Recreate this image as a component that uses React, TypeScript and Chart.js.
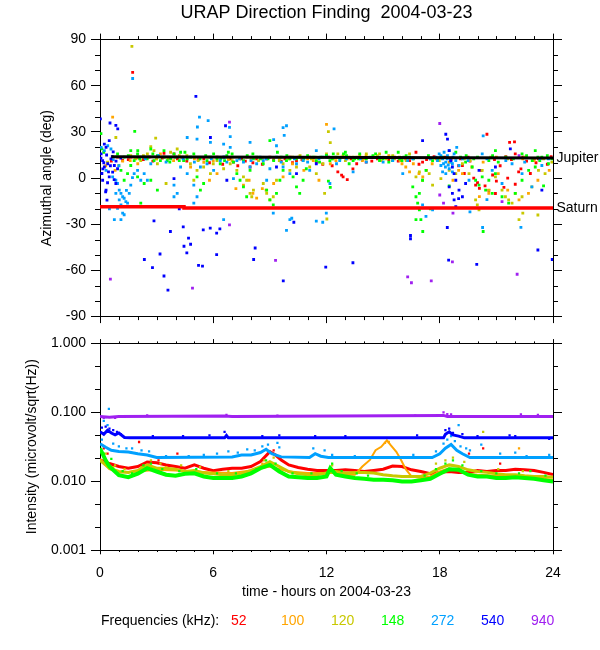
import { useEffect, useRef } from 'react';
import { Chart, registerables } from 'chart.js';

Chart.register(...registerables);

const FONT = "'Liberation Sans', Arial, Helvetica, sans-serif";
const TITLE = 'URAP Direction Finding  2004-03-23';
const X_TITLE = 'time - hours on 2004-03-23';
const Y_TITLE_TOP = 'Azimuthal angle (deg)';
const Y_TITLE_BOTTOM = 'Intensity (microvolt/sqrt(Hz))';
const LEGEND_TITLE = 'Frequencies (kHz):';

const FREQ_LABELS = ['52', '100', '120', '148', '272', '540', '940'];
const FREQ_COLORS = ['#ff0000', '#ffa500', '#c8c800', '#00ff00', '#00a0ff', '#0000ff', '#a020f0'];

const HOUR_MINOR = [1, 2, 3, 4, 5, 7, 8, 9, 10, 11, 13, 14, 15, 16, 17, 19, 20, 21, 22, 23];
const ANGLE_MINOR = [-80, -70, -50, -40, -20, -10, 10, 20, 40, 50, 70, 80];
const INTENSITY_TICKS = [0.001, 0.01, 0.1, 1];
const INTENSITY_MINOR = [0.464, 0.215, 0.0464, 0.0215, 0.00464, 0.00215];

const PLANET_LABELS = ['Jupiter', 'Saturn'];
const PLANET_LABEL_DEG = [13.0, -19.2];
const JUPITER = [[0.6, 13.8], [24, 13.0]];
const SATURN = [[0, -18.6], [4.45, -18.6], [4.45, -19.4], [24, -19.4]];

// ---------- Azimuthal angle (hours, deg) ----------
const AZ_52 = [
  [0.6, 11], [0.93, 13.6], [1.2, 11.5], [1.5, 12], [1.63, 13.6], [1.9, 13], [2.3, 12], [2.8, 11], [3.3, 13], [3.39, 16.1],
  [3.7, 13.5], [3.92, 15.7], [4.1, 12.5], [4.6, 11], [5.2, 12], [5.8, 10], [6.2, 13.6], [6.5, 9], [6.9, 12.5], [7.07, 10.4],
  [7.3, 8], [7.7, 11], [7.95, 7.2], [8.1, 10], [8.6, 9], [8.83, 12.5], [9.2, 12], [9.6, 11], [10.06, 13.6], [10.2, 10],
  [10.41, 11.4], [10.7, 12], [11.11, 13.6], [11.3, 13], [11.46, 10.4], [11.8, 9], [12.3, 8], [12.6, 4], [12.8, 1.9], [12.88, 0.8],
  [13.1, -1], [13.4, 6], [13.6, 9.3], [13.9, 12], [14.1, 10.4], [14.4, 11], [14.9, 13], [15.3, 12], [15.8, 11], [16.2, 12.5],
  [16.6, 13], [16.74, 16.8], [16.9, 9], [17.09, 10.4], [17.3, 12], [17.7, 14], [18.1, 13], [18.6, 12], [19.0, 8], [19.2, 8.2],
  [19.3, 3], [19.6, 11], [19.8, 0], [19.9, -4.6], [20.0, -3], [20.1, -6.7], [20.2, 5], [20.4, -5], [20.5, 28.5], [20.6, -8],
  [20.8, 2], [20.95, -10], [21.0, -2], [21.2, 8], [21.4, -6], [21.6, 0], [21.7, 23.2], [21.8, 12], [22.0, -4], [22.18, 4],
  [22.3, 6], [22.6, 11], [22.8, 3], [23.1, 10], [23.23, 12.5], [23.4, 13], [23.7, 9], [23.9, 14], [1.73, 68.7], [21.96, 23.5],
  [20.9, 12], [21.5, 14], [19.5, 13.6], [22.0, 15.7],
  [2.0, 13.6], [2.6, 13.6], [4.4, 13.6], [5.5, 12.5], [7.5, 12.5], [8.3, 12.5], [9.0, 13.6], [9.8, 12.5], [12.1, 13.6], [13.3, 12.5],
  [14.7, 12.5], [15.6, 13.6], [16.4, 11.4], [17.5, 12.5], [18.3, 13.6], [19.1, 12.5], [22.4, 13.6], [23.0, 12.5],
];
const AZ_100 = [
  [0.3, 8], [0.67, 39.6], [0.8, 5], [1.2, 11], [1.8, 13.6], [2.0, 9.3], [2.5, 13.6], [3.2, 15.7], [3.9, 11.4], [4.8, 7.2],
  [5.5, 10.3], [5.8, -1.4], [6.2, 2.9], [6.8, 12], [7.2, -6.8], [7.6, -4.6], [7.9, -1.4], [8.1, -9.9], [8.3, -13], [8.6, -6.8],
  [8.8, -7.8], [9.2, -3.5], [9.7, 0.8], [10.2, 9.3], [10.8, 5.0], [11.3, 11.4], [11.6, -1.4], [12.0, 34.9], [12.2, 9.3], [12.5, 11.4],
  [13.1, 12.5], [13.6, 13.6], [14.1, 14.6], [14.6, 13.6], [15.3, 14.6], [15.9, 11.4], [16.0, 9.3], [16.2, 7.2], [16.4, 4], [16.6, 9.3],
  [16.9, 2.9], [17.1, 0.8], [17.3, 5], [17.6, 9.3], [18.5, 10.3], [18.7, -1.4], [19.0, 5.0], [19.2, 2.9], [19.7, 7.2], [20.1, -12],
  [20.6, -9.9], [21.1, 2.9], [21.6, -7.8], [22.2, -14.2], [22.7, -9.9], [23.2, -1.4], [23.8, 5.0], [5.0, 12.5], [7.0, 13.6], [9.5, 12.5],
  [10.5, 13.6], [14.9, 11.4], [20.3, 10.4], [22.4, 12.5],
  [1.6, 11.4], [3.0, 12.5], [4.3, 13.6], [6.0, 11.4], [8.0, 12.5], [11.0, 12.5], [12.8, 13.6], [13.9, 11.4], [15.0, 13.6], [17.8, 12.5],
  [21.0, 13.6], [23.0, 11.4],
];
const AZ_120 = [
  [0.84, 26.4], [2.95, 26], [2.69, 20.5], [1.63, 14.6], [2.16, 11.4], [2.51, 15.7], [2.86, 17.8], [3.04, 9.3], [3.39, 13.6], [3.74, 16.8],
  [4.09, 18.9], [4.44, 11.4], [4.79, 9.3], [4.97, -1.4], [5.14, 5.0], [5.49, 7.2], [5.85, 2.9], [6.2, 11.4], [6.55, 6.1], [6.9, 9.3],
  [7.25, 5.0], [7.6, 0.8], [7.77, -1.4], [7.95, -9.9], [8.04, -12.1], [8.13, -7.8], [8.65, -3.5], [8.83, -9.9], [9.0, -14.2], [9.18, -12.1],
  [9.35, -1.4], [9.7, 9.3], [10.06, 5.0], [10.41, 7.2], [10.76, 11.4], [11.11, 7.2], [11.46, 2.9], [11.81, 9.3], [11.9, -9.9], [1.0, 8.2],
  [0.4, 10.4], [3.5, -3.5], [12.1, 30.2], [12.2, 23], [12.02, -26.6], [5.0, 13.6], [6.7, 13.6], [8.4, 11.4], [1.69, 85.6],
  [12.0, 15.7], [12.36, 12.5], [12.88, 14.6], [13.41, 13.6], [13.76, 14.6], [14.11, 15.7], [14.46, 13.9], [14.81, 15.7], [15.16, 12.5], [15.51, 14.6],
  [15.87, 13.6], [16.22, 11.4], [16.74, 0.8], [16.92, 4.0], [17.09, -1.4], [17.44, 2.9], [17.62, -4.6], [17.97, 11.4], [18.5, 5.0], [18.85, 2.9],
  [19.2, 9.3], [19.55, 2.9], [19.9, -14.2], [19.99, -17.4], [20.08, -20.6], [20.6, -7.8], [20.95, 0.8], [21.3, -7.8], [21.48, -12.1], [21.65, -14.2],
  [21.83, -16.3], [22.0, -9.9], [22.36, -12.1], [22.88, -5.7], [23.23, 5.0], [23.58, 2.9], [23.94, 10.4], [20.25, 5], [18.06, -0.3], [22.4, -22.8],
  [23.2, -24], [22.2, -27], [3.0, 12.5], [4.6, 14.6], [7.4, 12.5], [10.2, 13.6], [11.2, 12.5], [13.0, 11.4], [15.6, 12.5], [19.6, 11.4],
  [1.9, 12.5], [2.3, 14.6], [3.6, 12.5], [4.2, 14.6], [5.2, 11.4], [5.7, 13.6], [6.0, 9.3], [7.0, 11.4], [7.8, 13.6], [8.6, 12.5],
  [9.5, 11.4], [10.0, 12.5], [10.6, 14.6], [11.4, 13.6], [12.6, 15.7], [13.2, 13.6], [14.0, 12.5], [14.7, 14.6], [15.4, 13.6], [16.0, 12.5],
  [16.4, 15.7], [19.3, 12.5], [20.7, 13.6], [21.6, 12.5], [22.5, 13.6], [23.5, 12.5],
];
const AZ_148 = [
  [0.05, 28.9], [0.1, 19], [0.2, 16.8], [0.93, 15.7], [1.28, 13.6], [1.63, 17.8], [1.81, 11.4], [1.99, 15.7], [2.34, 13.6], [2.69, 18.9],
  [3.04, 14.6], [3.39, 17.8], [3.56, 11.4], [3.92, 15.7], [4.27, 16.8], [4.62, 12.5], [4.97, 15.7], [5.14, 0.8], [5.32, -7.8], [5.49, -3.5],
  [5.67, 11.4], [6.02, 15.7], [6.37, 9.3], [6.72, 14.6], [7.07, 10.4], [7.25, 2.9], [7.42, -1.4], [7.6, -5.7], [7.77, -12.1], [7.95, 5.0],
  [8.3, 13.6], [8.65, 9.3], [8.83, -7.8], [9.0, -14.2], [9.18, -17.4], [9.35, -9.9], [9.53, -1.4], [9.7, 5.0], [9.88, 11.4], [10.23, 0.8],
  [10.41, -5.7], [10.58, -9.9], [10.76, -1.4], [10.93, 6.1], [11.28, 13.6], [11.63, 10.4], [11.99, 14.6], [9.0, 24.3], [1.84, 30.4], [1.11, 5.0],
  [1.28, -1.4], [1.46, 2.9], [1.63, 8.2], [1.99, 0.8], [2.34, -3.5], [2.69, -1.4], [3.04, -7.8], [2.16, -16.3], [6.2, 12.5], [5.85, 13.6],
  [4.44, 11.4], [3.74, 12.5], [2.86, 11.4], [8.13, 12.5], [10.06, 12.5], [10.58, 13.6], [11.46, 11.4],
  [12.0, 14.6], [12.18, 11.4], [12.36, 15.7], [12.71, 12.5], [13.06, 14.6], [13.41, 11.4], [13.76, 15.7], [14.11, 12.5], [14.46, 14.6], [14.81, 11.4],
  [15.16, 16.8], [15.51, 13.6], [15.87, 12.5], [16.22, 14.6], [16.57, -5.7], [16.74, -12.1], [16.83, -16.3], [16.92, -9.9], [17.09, -1.4], [17.27, 5.0],
  [16.74, -27], [16.92, -20.6], [17.62, 11.4], [18.15, 13.6], [18.85, 16.8], [19.37, 10.4], [19.72, 7.2], [19.9, -1.4], [20.08, -4.6], [20.25, 0.8],
  [20.43, -7.8], [20.6, -1.4], [20.78, -9.9], [20.95, 2.9], [21.3, -12.1], [21.65, -16.3], [22.0, -9.9], [22.36, -1.4], [22.71, 5.0], [23.06, 7.2],
  [23.41, 13.6], [23.76, 9.3], [23.94, 12.5], [20.95, 17.8], [22.36, 15.7], [23.06, 17.8], [12.1, -2], [12.2, -6], [14.8, 12.5], [15.3, 10.4],
  [13.2, 9.3], [19.1, 13.6], [21.1, 10.4], [22.9, 11.4], [23.5, -5], [18.5, -5], [17.5, -20], [17.1, -34.7], [17.0, -27], [20.3, -34.7],
  [2.5, 12.5], [3.2, 11.4], [4.0, 13.6], [5.3, 12.5], [6.6, 11.4], [7.8, 14.6], [8.9, 12.5], [9.6, 13.6], [10.8, 12.5], [12.5, 13.6],
  [13.5, 12.5], [14.3, 13.6], [15.0, 12.5], [16.0, 11.4], [16.4, 13.6], [19.8, 12.5], [20.6, 11.4], [21.9, 12.5], [23.3, 11.4],
  [1.5, 14.6], [2.1, 12.5], [2.8, 15.7], [3.4, 13.6], [3.7, 10.4], [4.2, 11.4], [4.8, 13.6], [5.6, 14.6], [6.4, 12.5], [7.0, 15.7],
  [7.6, 11.4], [8.1, 15.7], [8.5, 12.5], [9.2, 11.4], [9.9, 14.6], [10.4, 12.5], [11.0, 14.6], [11.7, 13.6], [12.3, 12.5], [12.9, 15.7],
  [13.7, 12.5], [14.6, 15.7], [15.5, 11.4], [16.1, 13.6], [16.6, 12.5], [17.4, 14.6], [17.9, 12.5], [19.4, 14.6], [20.0, 13.6], [20.8, 14.6],
  [21.5, 13.6], [22.6, 14.6], [23.2, 13.6], [23.7, 14.6], [2.0, 17.8], [4.5, 16.8], [6.8, 16.8], [9.4, 16.8], [13.0, 16.8], [15.8, 16.8],
];
const AZ_272 = [
  [0.06, 20], [0.23, 17.8], [0.41, 21], [0.58, 18.9], [0.32, 5.0], [0.67, 0.8], [0.84, -1.4], [0.93, -3.5], [1.02, -7.8], [1.11, -9.9],
  [1.2, -12.1], [1.28, -13.1], [1.37, -15.3], [1.46, -16.3], [0.84, -9.9], [1.02, -14.2], [1.11, -17.4], [0.93, -19.6], [1.2, -22.8], [1.28, -23.8],
  [0.76, -27.0], [1.11, -27.0], [1.55, -9.9], [1.63, -4.6], [1.72, 0.3], [1.81, 2.9], [1.99, 5.0], [2.16, -1.4], [2.34, 2.9], [2.51, -1.4],
  [2.69, 9.3], [0.5, -20], [1.4, -8], [0.7, 12], [1.0, 8],
  [3.92, -4.6], [4.09, -9.9], [4.27, 7.2], [4.62, 2.9], [4.97, -4.6], [5.14, -12.1], [5.32, 7.2], [5.67, 9.3], [6.02, 5.0], [6.37, 11.4],
  [6.72, 10.4], [7.07, -0.3], [7.25, 11.4], [7.6, 10.4], [7.95, 7.2], [8.3, 9.3], [8.48, 13.6], [8.65, 11.4], [8.83, -1.4], [9.0, 6.1],
  [9.35, 13.6], [9.7, 7.2], [10.06, 2.9], [10.41, 9.3], [10.76, 11.4], [11.11, 5.0], [11.46, 17.8], [11.81, 13.6], [5.14, 25.3], [4.62, 26.4],
  [5.85, 23.2], [6.55, 22.1], [6.9, 20], [7.95, 23.2], [9.35, 21], [9.7, 32.8], [9.88, 34], [9.2, 25], [9.76, 27.8], [9.18, -22.8],
  [10.06, -27], [11.46, -28], [11.99, -22.8], [6.55, -27], [4.97, -16.3], [3.92, -12.1], [5.16, 33.2], [5.27, 39.6], [5.73, 37.3], [1.73, 64.7],
  [6.86, 33], [6.9, 27], [12.4, 32], [9.88, -34], [10.16, -26.1], [11.8, -28.7],
  [12.0, 13.6], [12.18, -3.5], [12.53, 9.3], [13.06, 12.5], [13.41, 4], [14.11, 10.4], [14.81, 13.6], [15.51, 11.4], [16.04, 2.9], [16.57, 12.5],
  [17.09, -17.4], [17.27, -24.9], [17.62, -20.6], [17.8, 13.6], [17.88, 11.4], [17.97, 15.7], [18.06, 8.2], [18.15, 12.5], [18.23, 16.8], [18.32, 10.4],
  [18.41, 14.6], [18.5, 6.1], [18.58, 12.5], [18.67, 9.3], [18.76, 15.7], [18.85, 11.4], [18.15, 4.0], [18.32, 2.9], [18.5, 17.8], [18.06, 14.6],
  [18.67, 4.0], [19.02, 8.2], [19.2, 12.5], [19.55, -1.4], [20.25, 15.7], [20.78, 5.0], [21.3, -3.5], [21.83, 9.3], [22.36, 2.9], [22.88, -5.7],
  [23.41, 8.2], [23.76, 12.5], [20.3, 27.4], [20.27, -32.1], [22.3, -32], [20.5, -14], [18.9, 20], [19.6, -22], [18.2, 9.3], [18.4, 12.5],
  [18.6, 10.4], [18.3, 7.2], [18.45, 8.5], [18.7, 13.6],
  [2.4, 12.5], [3.1, 14.6], [3.5, 10.4], [4.4, 12.5], [5.0, 10.4], [5.9, 12.5], [6.6, 13.6], [7.4, 12.5], [8.0, 11.4], [8.8, 12.5],
  [9.6, 10.4], [10.3, 12.5], [11.0, 10.4], [11.6, 12.5], [12.7, 11.4], [13.8, 12.5], [15.0, 10.4], [16.3, 11.4], [17.5, 12.5], [19.5, 11.4],
  [20.5, 12.5], [21.5, 11.4], [22.5, 10.4], [23.3, 12.5],
];
const AZ_540 = [
  [0.02, 38.5], [0.53, 35.8], [0.84, 34.3], [0.94, 32], [0.06, 15.7], [0.14, 11.4], [0.23, 7.2], [0.32, 20], [0.41, 9.3], [0.49, 0.8],
  [0.58, 12.5], [0.67, 3.9], [0.76, 8.2], [0.84, -3.5], [0.93, 6.1], [0.14, -1.4], [0.32, -7.8], [0.49, 24.3], [0.23, 22.1], [0.3, -9],
  [0.37, -14.3], [0.7, 17], [1.1, 13], [0.1, 3], [0.05, 13], [0.2, 10], [0.35, 15], [0.45, 4], [0.55, 8], [0.65, 14],
  [0.75, -1], [0.85, 11], [0.15, 6], [0.4, -3],
  [5.85, 26.4], [6.65, 34], [6.55, 13.6], [6.72, -1.4], [9.35, 7.2], [10.41, 2.9], [11.46, 9.3], [2.86, -27.8], [3.92, -0.3], [4.2, -20],
  [2.35, -52.9], [2.78, -58.2], [3.18, -49.3], [3.39, -63.6], [3.73, -34.7], [3.6, -72.8], [4.41, -31.7], [4.45, -44.3], [4.6, -48.6], [4.69, -39],
  [4.8, -43], [5.08, 53.1], [5.22, -56.7], [5.43, -57.2], [5.47, -33.6], [5.84, -32.5], [6.18, -35.8], [6.18, -49.7], [6.35, -33], [8.22, -45.4],
  [8.14, -52.9], [9.71, -66.8], [10.27, -28.7], [11.96, -57.8], [13.4, -55], [16.45, -37.3], [16.45, -39.4], [18.4, -32.1], [18.47, -53.3], [19.96, -56.1],
  [23.2, -46.7], [23.96, -52.9],
  [17.09, 24.3], [18.32, 28.5], [18.41, 25.3], [18.5, 17.8], [18.58, 11.4], [18.67, 7.2], [18.76, 2.9], [18.85, -1.4], [18.5, -5.7], [18.67, -9.9],
  [18.76, -14.2], [19.02, -7.8], [19.2, -12.1], [18.85, -18.5], [19.37, -3.5], [21.74, 19], [20.08, 5.0], [20.95, 7.2], [23.41, -7.8], [19.0, -13.3],
];
const AZ_940 = [
  [0.55, -65.7], [4.9, -71.5], [6.86, 36.4], [6.86, -30.4], [9.3, -53.5], [16.3, -64.2], [16.5, -68], [17.55, -66.8], [18.0, 35.5], [18.67, -54.4],
  [22.1, -62.5], [18.0, -11], [18.2, -16.3], [18.7, -22.8], [21.3, -15.3], [22.2, 14.6],
];

// ---------- Intensity (hours, microvolt/sqrt(Hz)) ----------
const INT_940_LINE = [[0, 0.087], [0.5, 0.085], [1, 0.087], [6.6, 0.088], [7, 0.087], [18.2, 0.09], [18.4, 0.087], [24, 0.087]];
const INT_940_DOTS = [[18.2, 0.1], [18.4, 0.094], [18.6, 0.093], [22.3, 0.093], [23.2, 0.092], [6.7, 0.092], [2.5, 0.09], [0.2, 0.083], [0.8, 0.083], [9.4, 0.089], [16.7, 0.089]];
const INT_540_LINE = [[0, 0.052], [0.2, 0.048], [0.4, 0.055], [0.6, 0.05], [0.8, 0.047], [1.0, 0.05], [1.3, 0.043], [1.6, 0.0425], [6.6, 0.0425], [6.7, 0.046], [6.8, 0.0425], [18.2, 0.0425], [18.3, 0.048], [18.5, 0.052], [18.7, 0.047], [19.0, 0.045], [19.3, 0.0425], [24, 0.0425]];
const INT_540_DOTS = [[0.1, 0.06], [0.3, 0.062], [0.5, 0.058], [0.7, 0.055], [0.9, 0.052], [1.1, 0.048], [2.8, 0.045], [4.4, 0.045], [5.8, 0.046], [6.6, 0.052], [8.6, 0.045], [9.5, 0.046], [11.4, 0.045], [13.0, 0.045], [16.8, 0.046], [18.3, 0.055], [18.5, 0.058], [18.7, 0.05], [19.2, 0.048], [20.0, 0.045], [21.7, 0.046], [22.0, 0.045], [23.8, 0.041]];
const INT_272_LINE = [[0, 0.035], [0.3, 0.031], [0.6, 0.028], [1, 0.027], [1.5, 0.0265], [2, 0.025], [2.5, 0.024], [3, 0.022], [7, 0.0225], [7.5, 0.024], [8, 0.024], [8.5, 0.026], [8.8, 0.029], [9.1, 0.025], [9.6, 0.0225], [11.1, 0.022], [11.4, 0.025], [11.7, 0.023], [12.1, 0.022], [17.6, 0.022], [18.0, 0.025], [18.3, 0.03], [18.6, 0.034], [18.9, 0.028], [19.2, 0.025], [19.6, 0.022], [24, 0.022]];
const INT_272_DOTS = [[0.47, 0.112], [0.3, 0.085], [0.2, 0.075], [0.4, 0.065], [0.1, 0.04], [0.7, 0.035], [1.0, 0.032], [1.4, 0.03], [1.7, 0.03], [2.2, 0.028], [2.6, 0.027], [3.5, 0.023], [4.7, 0.023], [5.5, 0.024], [6.2, 0.025], [6.8, 0.027], [7.3, 0.026], [7.8, 0.029], [8.2, 0.028], [8.6, 0.032], [8.9, 0.034], [9.4, 0.036], [9.5, 0.031], [11.3, 0.03], [11.9, 0.028], [12.3, 0.024], [13.5, 0.023], [16.6, 0.024], [17.8, 0.027], [18.2, 0.035], [18.4, 0.04], [18.6, 0.045], [18.8, 0.038], [19.0, 0.065], [19.1, 0.032], [19.4, 0.03], [19.6, 0.028], [20.2, 0.034], [21.2, 0.025], [22.0, 0.026], [22.6, 0.023], [23.8, 0.024]];
const INT_148_LINE = [[0, 0.03], [0.3, 0.02], [0.5, 0.0163], [1, 0.0122], [1.5, 0.0114], [2, 0.0128], [2.5, 0.0154], [3, 0.0138], [3.5, 0.0124], [4, 0.012], [4.5, 0.0128], [5, 0.013], [5.5, 0.0117], [6, 0.0111], [6.5, 0.0111], [7, 0.0111], [7.5, 0.0117], [8, 0.013], [8.5, 0.0154], [9, 0.0172], [9.5, 0.0138], [10, 0.0117], [10.5, 0.0114], [11, 0.0111], [11.5, 0.0111], [12, 0.0117], [12.2, 0.0154], [12.5, 0.0124], [13, 0.0117], [13.5, 0.0111], [14, 0.0108], [14.5, 0.0105], [15, 0.0105], [15.5, 0.0103], [16, 0.0099], [16.5, 0.0099], [17, 0.0103], [17.5, 0.0108], [18, 0.0128], [18.5, 0.0149], [19, 0.0146], [19.5, 0.0124], [20, 0.0117], [20.5, 0.0117], [21, 0.0111], [21.5, 0.0111], [22, 0.0114], [22.5, 0.0111], [23, 0.0108], [23.5, 0.0103], [24, 0.0099]];
const INT_148_DOTS = [[0.2, 0.025], [0.6, 0.021], [1.2, 0.014], [1.7, 0.013], [2.3, 0.017], [2.7, 0.018], [3.3, 0.015], [4.2, 0.014], [5.1, 0.015], [6.2, 0.013], [7.2, 0.013], [8.3, 0.015], [8.8, 0.02], [9.3, 0.018], [10.2, 0.013], [11.2, 0.013], [12.3, 0.018], [12.8, 0.014], [13.6, 0.013], [14.2, 0.012], [17.2, 0.012], [17.8, 0.015], [18.3, 0.018], [18.7, 0.02], [19.2, 0.017], [20.2, 0.014], [21.0, 0.013], [22.2, 0.013], [22.8, 0.014], [23.6, 0.012]];
const INT_120_LINE = [[0, 0.02], [0.5, 0.0154], [1, 0.0138], [1.5, 0.0134], [2, 0.0143], [2.5, 0.0172], [3, 0.0154], [3.5, 0.0154], [4, 0.0149], [4.5, 0.0138], [5, 0.0143], [5.5, 0.0131], [6, 0.0128], [6.5, 0.0124], [7, 0.0124], [7.5, 0.0128], [8, 0.0143], [8.5, 0.0163], [9, 0.0192], [9.5, 0.0163], [10, 0.0138], [10.5, 0.0128], [11, 0.0124], [11.5, 0.0124], [12, 0.0131], [12.5, 0.0138], [13, 0.0131], [13.5, 0.0134], [14, 0.0134], [14.5, 0.0131], [15, 0.0124], [15.5, 0.012], [16, 0.0117], [16.5, 0.0117], [17, 0.0117], [17.5, 0.0131], [18, 0.0154], [18.5, 0.0172], [19, 0.0163], [19.5, 0.0146], [20, 0.0138], [20.5, 0.0134], [21, 0.0128], [21.5, 0.0124], [22, 0.0124], [22.5, 0.012], [23, 0.0117], [23.5, 0.0117], [24, 0.0114]];
const INT_120_DOTS = [[0.3, 0.025], [0.8, 0.017], [1.3, 0.015], [2.2, 0.016], [2.7, 0.02], [3.2, 0.018], [4.3, 0.017], [5.3, 0.016], [6.8, 0.014], [8.7, 0.02], [9.2, 0.022], [12.3, 0.017], [17.8, 0.018], [18.3, 0.02], [18.7, 0.022], [19.3, 0.019], [20.3, 0.052], [21.1, 0.015], [22.4, 0.014]];
const INT_100_LINE = [[0, 0.021], [0.5, 0.0149], [1, 0.0134], [2, 0.0138], [3, 0.0146], [4, 0.0143], [5, 0.0138], [6, 0.0134], [7, 0.0131], [8, 0.0143], [9, 0.0163], [10, 0.0138], [11, 0.0131], [12, 0.0131], [12.5, 0.0131], [13, 0.0124], [13.5, 0.0124], [13.9, 0.0163], [14.3, 0.0203], [14.6, 0.0282], [14.9, 0.0315], [15.2, 0.0392], [15.4, 0.0333], [15.7, 0.0267], [15.95, 0.0203], [16.2, 0.0149], [16.5, 0.0117], [17, 0.0111], [17.5, 0.0117], [18, 0.0138], [18.5, 0.0154], [19, 0.0143], [19.5, 0.0128], [20, 0.0124], [21, 0.012], [22, 0.0114], [23, 0.0111], [24, 0.0105]];
const INT_100_DOTS = [[0.2, 0.024], [0.7, 0.016], [1.5, 0.0135], [2.5, 0.016], [3.5, 0.016], [8.6, 0.018], [15.1, 0.036], [15.3, 0.037], [22.2, 0.03]];
const INT_52_LINE = [[0, 0.0203], [0.5, 0.018], [1, 0.0163], [1.5, 0.0154], [2, 0.0163], [2.5, 0.019], [3, 0.0185], [3.5, 0.0172], [4, 0.0163], [4.5, 0.0154], [5, 0.0172], [5.5, 0.0154], [6, 0.0142], [6.5, 0.0149], [7, 0.0154], [7.5, 0.0154], [8, 0.0163], [8.5, 0.0192], [9, 0.0267], [9.3, 0.0239], [9.6, 0.0203], [10, 0.0172], [10.5, 0.0158], [11, 0.0149], [11.5, 0.0143], [12, 0.0143], [12.5, 0.0143], [13, 0.0146], [13.5, 0.0143], [14, 0.0138], [14.5, 0.0143], [15, 0.0149], [15.5, 0.0166], [16, 0.0163], [16.5, 0.0146], [17, 0.0138], [17.5, 0.0128], [18, 0.0134], [18.5, 0.0138], [19, 0.0134], [19.5, 0.0134], [20, 0.0143], [20.5, 0.0138], [21, 0.0143], [21.5, 0.0143], [22, 0.0149], [22.5, 0.0146], [23, 0.0143], [23.5, 0.0134], [24, 0.0125]];
const INT_52_DOTS = [[0.2, 0.03], [0.4, 0.025], [2.07, 0.037], [3.1, 0.02], [4.1, 0.025], [9.2, 0.028], [19.55, 0.025], [20.3, 0.03], [21.2, 0.018]];

type Pt = number[];
const toXY = (arr: Pt[]) => arr.map(([x, y]) => ({ x, y }));

function makeMinorPlugin(items: { scale: string; side: string; values: number[]; len: number }[]) {
  return {
    id: 'minorTicks',
    afterDraw(chart: any) {
      const ctx = chart.ctx;
      const ca = chart.chartArea;
      ctx.save();
      ctx.strokeStyle = '#000';
      ctx.lineWidth = 1;
      ctx.beginPath();
      for (const it of items) {
        const s = chart.scales[it.scale];
        for (const v of it.values) {
          const p = Math.round(s.getPixelForValue(v)) + 0.5;
          if (it.side === 'left') { ctx.moveTo(ca.left - it.len, p); ctx.lineTo(ca.left, p); }
          if (it.side === 'right') { ctx.moveTo(ca.right, p); ctx.lineTo(ca.right + it.len, p); }
          if (it.side === 'top') { ctx.moveTo(p, ca.top - it.len); ctx.lineTo(p, ca.top); }
          if (it.side === 'bottom') { ctx.moveTo(p, ca.bottom); ctx.lineTo(p, ca.bottom + it.len); }
        }
      }
      ctx.stroke();
      ctx.restore();
    },
  };
}

const dots = (data: Pt[], color: string, label: string, r = 2) => ({
  label,
  data: toXY(data),
  showLine: false,
  backgroundColor: color,
  borderColor: color,
  pointStyle: 'rect',
  pointRadius: r,
  pointBorderWidth: 0,
  pointHoverRadius: r,
});

const line = (data: Pt[], color: string, label: string, w = 3) => ({
  label,
  data: toXY(data),
  showLine: true,
  borderColor: color,
  backgroundColor: color,
  borderWidth: w,
  pointRadius: 0,
  pointHoverRadius: 0,
  fill: false,
  tension: 0,
});

const tickGrid = (len: number, tickColor: any = '#000') => ({
  display: true,
  drawOnChartArea: false,
  drawTicks: true,
  tickLength: len,
  tickColor,
  tickWidth: 1,
});
const border = { display: true, color: '#000', width: 1 };

export default function App() {
  const topRef = useRef<HTMLCanvasElement>(null);
  const botRef = useRef<HTMLCanvasElement>(null);

  useEffect(() => {
    Chart.defaults.font.family = FONT;
    Chart.defaults.color = '#000';

    const topChart = new Chart(topRef.current as HTMLCanvasElement, {
      type: 'scatter',
      data: {
        datasets: [
          line(JUPITER, '#000000', 'Jupiter', 3),
          line(SATURN, '#ff0000', 'Saturn', 3.5),
          dots(AZ_940, FREQ_COLORS[6], FREQ_LABELS[6]),
          dots(AZ_540, FREQ_COLORS[5], FREQ_LABELS[5]),
          dots(AZ_272, FREQ_COLORS[4], FREQ_LABELS[4]),
          dots(AZ_148, FREQ_COLORS[3], FREQ_LABELS[3]),
          dots(AZ_120, FREQ_COLORS[2], FREQ_LABELS[2]),
          dots(AZ_100, FREQ_COLORS[1], FREQ_LABELS[1]),
          dots(AZ_52, FREQ_COLORS[0], FREQ_LABELS[0]),
        ] as any,
      },
      options: {
        animation: false,
        responsive: false,
        events: [],
        layout: { padding: 0 },
        plugins: {
          legend: { display: false },
          tooltip: { enabled: false },
          title: {
            display: true,
            text: TITLE,
            fullSize: false,
            color: '#000',
            font: { size: 18, weight: 'normal', family: FONT },
            padding: { top: 2.5, bottom: 5.5 },
          },
        },
        scales: {
          x: {
            type: 'linear', position: 'bottom', min: 0, max: 24,
            ticks: { stepSize: 6, display: false },
            grid: tickGrid(6.5), border,
            afterFit: (s: any) => { s.height = 11; },
          },
          x2: {
            type: 'linear', position: 'top', min: 0, max: 24,
            ticks: { stepSize: 6, display: false },
            grid: tickGrid(6), border,
            afterFit: (s: any) => { s.height = 10; },
          },
          y: {
            type: 'linear', position: 'left', min: -90, max: 90,
            ticks: { stepSize: 30, padding: 5, color: '#000', font: { size: 14 } },
            grid: tickGrid(9), border,
            title: { display: true, text: Y_TITLE_TOP, color: '#000', font: { size: 14 }, padding: { top: 38.6, bottom: 0 } },
            afterFit: (s: any) => { s.width = 100; },
          },
          yR: {
            type: 'linear', position: 'right', min: -90, max: 90,
            afterBuildTicks: (s: any) => {
              s.ticks = [-90, -60, -30, 0, 30, 60, 90, ...PLANET_LABEL_DEG].map((v) => ({ value: v }));
            },
            ticks: {
              autoSkip: false, padding: -5.5, color: '#000', font: { size: 14 },
              callback: (v: any) => {
                const i = PLANET_LABEL_DEG.indexOf(Number(v));
                return i >= 0 ? PLANET_LABELS[i] : '';
              },
            },
            grid: tickGrid(9, (c: any) => (c.tick && PLANET_LABEL_DEG.includes(c.tick.value) ? 'rgba(0,0,0,0)' : '#000')),
            border,
            afterFit: (s: any) => { s.width = 47; },
          },
        },
      } as any,
      plugins: [makeMinorPlugin([
        { scale: 'y', side: 'left', values: ANGLE_MINOR, len: 5 },
        { scale: 'yR', side: 'right', values: ANGLE_MINOR, len: 5 },
        { scale: 'x', side: 'bottom', values: HOUR_MINOR, len: 3.5 },
        { scale: 'x2', side: 'top', values: HOUR_MINOR, len: 3.5 },
      ])] as any,
    });

    const botChart = new Chart(botRef.current as HTMLCanvasElement, {
      type: 'scatter',
      data: {
        datasets: [
          line(INT_940_LINE, FREQ_COLORS[6], FREQ_LABELS[6], 3),
          dots(INT_940_DOTS, FREQ_COLORS[6], FREQ_LABELS[6], 1.6),
          line(INT_540_LINE, FREQ_COLORS[5], FREQ_LABELS[5], 3),
          dots(INT_540_DOTS, FREQ_COLORS[5], FREQ_LABELS[5], 1.6),
          line(INT_272_LINE, FREQ_COLORS[4], FREQ_LABELS[4], 3),
          dots(INT_272_DOTS, FREQ_COLORS[4], FREQ_LABELS[4], 1.6),
          line(INT_148_LINE, FREQ_COLORS[3], FREQ_LABELS[3], 4),
          dots(INT_148_DOTS, FREQ_COLORS[3], FREQ_LABELS[3], 1.6),
          line(INT_120_LINE, FREQ_COLORS[2], FREQ_LABELS[2], 3),
          dots(INT_120_DOTS, FREQ_COLORS[2], FREQ_LABELS[2], 1.6),
          line(INT_100_LINE, FREQ_COLORS[1], FREQ_LABELS[1], 2),
          dots(INT_100_DOTS, FREQ_COLORS[1], FREQ_LABELS[1], 1.6),
          line(INT_52_LINE, FREQ_COLORS[0], FREQ_LABELS[0], 3),
          dots(INT_52_DOTS, FREQ_COLORS[0], FREQ_LABELS[0], 1.6),
        ] as any,
      },
      options: {
        animation: false,
        responsive: false,
        events: [],
        layout: { padding: { top: 0, left: 0, right: 0, bottom: 40 } },
        plugins: { legend: { display: false }, tooltip: { enabled: false } },
        scales: {
          x: {
            type: 'linear', position: 'bottom', min: 0, max: 24,
            ticks: { stepSize: 6, padding: 10.3, color: '#000', font: { size: 14 }, maxRotation: 0 },
            grid: tickGrid(4.3), border,
            title: { display: true, text: X_TITLE, color: '#000', font: { size: 14 }, padding: { top: 0, bottom: 9.6 } },
            afterFit: (s: any) => { s.height = 60; },
          },
          x2: {
            type: 'linear', position: 'top', min: 0, max: 24,
            ticks: { stepSize: 6, display: false },
            grid: tickGrid(4.3), border,
            afterFit: (s: any) => { s.height = 9; },
          },
          y: {
            type: 'logarithmic', position: 'left', min: 0.001, max: 1,
            afterBuildTicks: (s: any) => { s.ticks = INTENSITY_TICKS.map((v) => ({ value: v })); },
            ticks: { autoSkip: false, padding: 5, color: '#000', font: { size: 14 }, callback: (v: any) => Number(v).toFixed(3) },
            grid: tickGrid(9), border,
            title: { display: true, text: Y_TITLE_BOTTOM, color: '#000', font: { size: 14 }, padding: { top: 23.3, bottom: 0 } },
            afterFit: (s: any) => { s.width = 100; },
          },
          yR: {
            type: 'logarithmic', position: 'right', min: 0.001, max: 1,
            afterBuildTicks: (s: any) => { s.ticks = INTENSITY_TICKS.map((v) => ({ value: v })); },
            ticks: { display: false, autoSkip: false },
            grid: tickGrid(9), border,
            afterFit: (s: any) => { s.width = 47; },
          },
        },
      } as any,
      plugins: [makeMinorPlugin([
        { scale: 'y', side: 'left', values: INTENSITY_MINOR, len: 5 },
        { scale: 'yR', side: 'right', values: INTENSITY_MINOR, len: 5 },
        { scale: 'x', side: 'bottom', values: HOUR_MINOR, len: 2 },
        { scale: 'x2', side: 'top', values: HOUR_MINOR, len: 2 },
      ])] as any,
    });

    return () => {
      topChart.destroy();
      botChart.destroy();
    };
  }, []);

  const legendX = [231, 281, 331, 381, 431, 481, 531];
  const textStyle = {
    position: 'absolute' as const,
    top: 612,
    fontFamily: FONT,
    fontSize: 14,
    lineHeight: '16px',
    whiteSpace: 'nowrap' as const,
  };

  return (
    <div style={{ position: 'absolute', left: 0, top: 0, width: 600, height: 650, background: '#fff', overflow: 'hidden' }}>
      <canvas ref={topRef} width={600} height={330} style={{ position: 'absolute', left: 0, top: 0, width: 600, height: 330 }} />
      <canvas ref={botRef} width={600} height={320} style={{ position: 'absolute', left: 0, top: 330, width: 600, height: 320 }} />
      <span style={{ ...textStyle, left: 101, color: '#000' }}>{LEGEND_TITLE}</span>
      {FREQ_LABELS.map((f, i) => (
        <span key={f} style={{ ...textStyle, left: legendX[i], color: FREQ_COLORS[i] }}>{f}</span>
      ))}
    </div>
  );
}
